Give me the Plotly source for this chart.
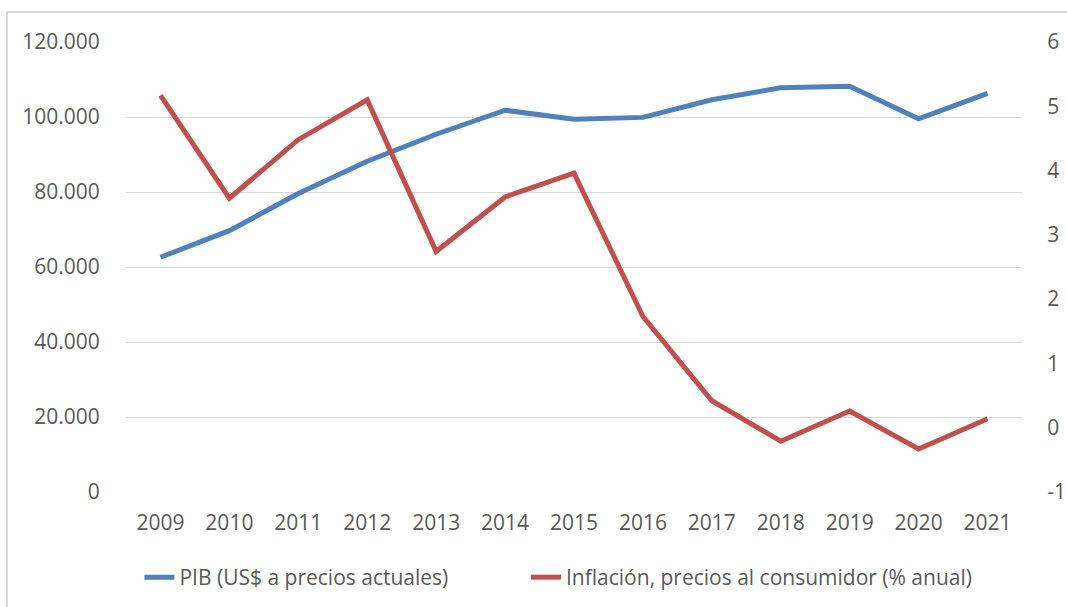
import plotly.graph_objects as go

years = ["2009", "2010", "2011", "2012", "2013", "2014", "2015",
         "2016", "2017", "2018", "2019", "2020", "2021"]
pib = [62600, 69700, 79600, 88200, 95400, 101800, 99400,
       99900, 104600, 107800, 108200, 99500, 106300]
inflacion = [5.17, 3.57, 4.48, 5.10, 2.74, 3.59, 3.96,
             1.73, 0.42, -0.21, 0.26, -0.33, 0.14]

left_ticks = [0, 20000, 40000, 60000, 80000, 100000, 120000]
right_ticks = [-1, 0, 1, 2, 3, 4, 5, 6]
right_labels = ["-1", "0", "1", "2", "3", "4", "5", "6"]

name_pib = "PIB (US$ a precios actuales)"
name_inf = "Inflación, precios al consumidor (% anual)"

FONT = "Open Sans"
GREY = "#595959"
FS = 21
NOTICK = "rgba(0,0,0,0)"

fig = go.Figure()
fig.add_trace(go.Scatter(x=years, y=pib, name=name_pib, mode="lines",
                         line=dict(color="#4F81BD", width=5), legend="legend"))
fig.add_trace(go.Scatter(x=years, y=inflacion, name=name_inf, mode="lines",
                         line=dict(color="#C0504D", width=5), yaxis="y2",
                         legend="legend2"))

legend_common = dict(orientation="h", xanchor="left", y=-0.19, yanchor="middle",
                     font=dict(family=FONT, size=FS, color=GREY),
                     bgcolor="rgba(0,0,0,0)")

fig.update_layout(
    width=1067, height=607,
    margin=dict(l=126, r=45, t=42, b=115, autoexpand=False),
    paper_bgcolor="white", plot_bgcolor="white",
    separators=",.",
    font=dict(family=FONT, size=FS, color=GREY),
    showlegend=True,
    legend=dict(x=0.015, **legend_common),
    legend2=dict(x=0.4464, **legend_common),
    xaxis=dict(type="category", range=[-0.5, 12.5], showgrid=False, showline=False,
               zeroline=False, ticks="outside", ticklen=12, tickcolor=NOTICK,
               tickfont=dict(family=FONT, size=FS, color=GREY)),
    yaxis=dict(range=[0, 120000], tickvals=left_ticks, tickformat=",d",
               showgrid=True, gridcolor="#D9D9D9", gridwidth=1.3,
               zeroline=False, showline=False,
               ticks="outside", ticklen=21, tickcolor=NOTICK,
               tickfont=dict(family=FONT, size=FS, color=GREY)),
    yaxis2=dict(range=[-1, 6], overlaying="y", side="right",
                tickvals=right_ticks, ticktext=right_labels,
                showgrid=False, zeroline=False, showline=False,
                ticks="outside", ticklen=20, tickcolor=NOTICK,
                tickfont=dict(family=FONT, size=FS, color=GREY)),
    shapes=[dict(type="rect", xref="paper", yref="paper",
                 x0=-0.1328, x1=1.1, y0=-0.3, y1=1.0667,
                 line=dict(color="#D0D0D0", width=1.5), fillcolor="rgba(0,0,0,0)",
                 layer="below")],
)

fig.write_html("out.html", config={"displayModeBar": False},
               post_script="document.body.style.margin='0';document.body.style.overflow='hidden';")
